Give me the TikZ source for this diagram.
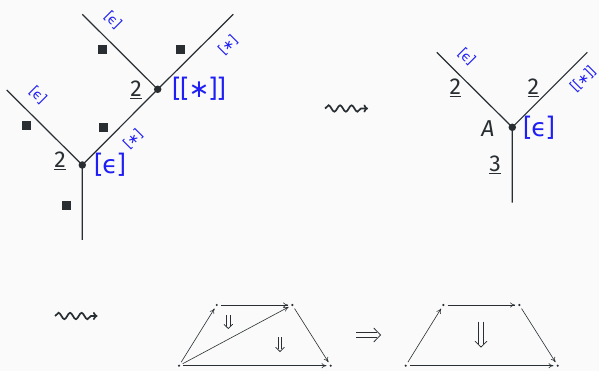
\documentclass[tikz,border=0pt]{standalone}
\usepackage{fontspec}
\setmainfont{Fira Sans}
\newfontfamily\djv{DejaVu Sans}
\usetikzlibrary{arrows.meta,decorations.pathmorphing}
\definecolor{bg}{RGB}{250,250,250}
\definecolor{ink}{RGB}{40,46,50}
\definecolor{lab}{RGB}{30,30,245}
\newcommand{\myeps}{{\djv ϵ}}
\newcommand{\myast}{{\djv ∗}}
\tikzset{
  pics/dblar/.style args={#1/#2}{code={
    \draw[ink,line width=0.75pt] (0,#2/2) -- (#1-#2*0.7,#2/2);
    \draw[ink,line width=0.75pt] (0,-#2/2) -- (#1-#2*0.7,-#2/2);
    \draw[ink,line width=0.75pt,line cap=round]
      (#1-#2*1.2,#2*1.25) .. controls (#1-#2*0.6,#2*0.55) .. (#1,0)
      .. controls (#1-#2*0.6,-#2*0.55) .. (#1-#2*1.2,-#2*1.25);
  }}
}
\begin{document}
\begin{tikzpicture}[x=1pt,y=-1pt,
  edge/.style={ink,line width=1.2pt},
  tdot/.style={circle,fill=ink,inner sep=0pt,minimum size=7.5pt},
  sq/.style={fill=ink,inner sep=0pt,minimum size=9pt},
  num/.style={ink,font=\fontsize{23}{25}\selectfont,inner sep=0pt},
  biglab/.style={lab,font=\fontsize{25}{27}\selectfont,inner sep=0pt},
  smlab/.style={lab,font=\fontsize{13.5}{14}\selectfont,inner sep=0pt},
  bdot/.style={circle,fill=ink,inner sep=0pt,minimum size=2.4pt,outer sep=3pt},
  barr/.style={ink,line width=0.6pt,-{To[length=5pt,width=5pt]}},
  squig/.style={ink,line width=1.7pt,decorate,decoration={snake,amplitude=3.2pt,segment length=11.5pt,post length=5pt},-{To[length=4.5pt,width=8pt]}}
]
\fill[bg] (0,0) rectangle (599,371);
\useasboundingbox (0,0) rectangle (599,371);

% left tree
\node[tdot] (n1) at (82.3,165) {};
\node[tdot] (n2) at (157.7,89.3) {};
\coordinate (r1) at (82.3,240);
\coordinate (l1) at (6.7,90);
\coordinate (l2) at (82.3,14.3);
\coordinate (l3) at (233.3,14.3);
\draw[edge] (r1) -- (n1.center) -- (l1);
\draw[edge] (n1.center) -- (n2.center) -- (l2);
\draw[edge] (n2.center) -- (l3);
\node[num] (t1) at (60,161) {\underline{2}};
\node[num] (t2) at (136,90) {\underline{2}};
\node[biglab] (t3) at (110,165) {[\myeps]};
\node[biglab] (t4) at (199,89) {[[\myast]]};
\node[smlab,rotate=45] (t5) at (133,139) {[\myast]};
\node[smlab,rotate=-45] (t6) at (38,95) {[\myeps]};
\node[smlab,rotate=-45] (t7) at (113,20) {[\myeps]};
\node[smlab,rotate=45] (t8) at (228,45) {[\myast]};
\node[sq] (s1) at (102,50) {};
\node[sq] (s2) at (180,50) {};
\node[sq] (s3) at (26,126) {};
\node[sq] (s4) at (103,128) {};
\node[sq] (s5) at (66,206) {};

% squiggle 1
\coordinate (q1a) at (325,108.5);
\coordinate (q1b) at (368,108.5);
\draw[squig] (q1a) -- (q1b);

% right tree
\node[tdot] (m1) at (512.3,127.3) {};
\coordinate (mr) at (512.3,202.7);
\coordinate (ml) at (436.7,52.3);
\coordinate (mrr) at (587.3,52.3);
\draw[edge] (mr) -- (m1.center) -- (ml);
\draw[edge] (m1.center) -- (mrr);
\node[num] (u1) at (455.3,87.5) {\underline{2}};
\node[num] (u2) at (533.3,87.5) {\underline{2}};
\node[num,font=\itshape\fontsize{23}{25}\selectfont] (u3) at (488,129) {A};
\node[num] (u4) at (495,165) {\underline{3}};
\node[biglab] (u5) at (539,127.3) {[\myeps]};
\node[smlab,rotate=-45] (u6) at (466.7,56.7) {[\myeps]};
\node[smlab,rotate=45] (u7) at (583,79) {[[\myast]]};

% squiggle 2
\coordinate (q2a) at (55,316);
\coordinate (q2b) at (97.5,316);
\draw[squig] (q2a) -- (q2b);

% bottom diagram 1
\node[bdot] (a) at (179,365.7) {};
\node[bdot] (b) at (216.7,305) {};
\node[bdot] (c) at (292.3,305) {};
\node[bdot] (d) at (330.7,365.7) {};
\draw[barr] (a) -- (b);
\draw[barr] (b) -- (c);
\draw[barr] (a) -- (c);
\draw[barr] (c) -- (d);
\draw[barr] (a) -- (d);
\coordinate (da1) at (228.3,315);
\coordinate (db1) at (280,337);
\pic[rotate=-90] (dda) at (da1) {dblar={13.5/3.4}};
\pic[rotate=-90] (ddb) at (db1) {dblar={14.5/3.4}};

% implies
\coordinate (i1) at (356,335);
\pic (ddi) at (i1) {dblar={24.5/5.5}};

% bottom diagram 2
\node[bdot] (e) at (405.7,365.7) {};
\node[bdot] (f) at (443.3,305) {};
\node[bdot] (g) at (519.3,305) {};
\node[bdot] (h) at (557.7,365.7) {};
\draw[barr] (e) -- (f);
\draw[barr] (f) -- (g);
\draw[barr] (g) -- (h);
\draw[barr] (e) -- (h);
\coordinate (dc1) at (481,321.5);
\pic[rotate=-90] (ddc) at (dc1) {dblar={25.5/4.6}};
\end{tikzpicture}
\end{document}
